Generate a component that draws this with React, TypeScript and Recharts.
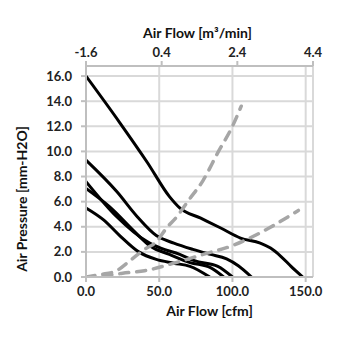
import { LineChart, Line, XAxis, YAxis, CartesianGrid, Label } from "recharts";

// fan curves, cfm vs mm-H2O
const curveAx = [0, 23, 42, 57, 64, 78, 92, 105.5, 119, 126, 133, 140, 148];
const curveAy = [16, 12.3, 9.1, 6.4, 5.5, 4.7, 3.9, 3.1, 2.7, 2.3, 1.65, 0.85, 0];
const curveBx = [0, 21, 35, 48, 60, 73, 85, 96, 104, 113];
const curveBy = [9.3, 6.8, 4.8, 3.3, 2.7, 2.2, 1.8, 1.45, 0.9, 0];
const curveCx = [0, 21, 42, 51, 64, 74, 90, 100];
const curveCy = [7.6, 4.8, 2.8, 2.3, 1.8, 1.3, 0.85, 0];
const curveDx = [0, 16, 35, 44, 57, 71, 85, 94];
const curveDy = [7.05, 5.6, 3.4, 2.45, 1.8, 1.15, 0.75, 0];
const curveEx = [0, 12, 23, 36, 48, 60, 71, 84.5];
const curveEy = [5.5, 4.55, 3.3, 2.0, 1.4, 1.1, 0.85, 0];

// system impedance curves (dashed)
const steepX = [0, 10, 20, 30, 40, 48, 55, 62, 70, 80, 90, 100, 106];
const steepY = [0, 0.2, 0.45, 1.3, 2.2, 2.8, 3.9, 4.8, 6.1, 7.7, 9.9, 12.0, 13.6];
const shallowX = [0, 10, 25, 40, 60, 80, 100, 110, 125, 145];
const shallowY = [0, 0.05, 0.3, 0.5, 1.1, 1.8, 2.5, 3.0, 3.9, 5.3];

const cfmTicks = [0, 50, 100, 150];
const m3Ticks = [-1.6, 0.4, 2.4, 4.4];
const pressureTicks = [0, 2, 4, 6, 8, 10, 12, 14, 16];

const toPoints = (xs: number[], ys: number[]) =>
  xs.map((x, i) => ({ x, y: ys[i] }));

const fanCurves = [
  toPoints(curveAx, curveAy),
  toPoints(curveBx, curveBy),
  toPoints(curveCx, curveCy),
  toPoints(curveDx, curveDy),
  toPoints(curveEx, curveEy),
];
const sysCurves = [toPoints(steepX, steepY), toPoints(shallowX, shallowY)];
// invisible helper so the top (m3/min) axis gets drawn
const topAxisRef = m3Ticks.map((x) => ({ x, y: 0 }));

const FONT = "Lato, 'Open Sans', sans-serif";
const tickStyle = { fontSize: 13, fontWeight: 700, fill: "#222", fontFamily: FONT };
const titleStyle = { fontSize: 14, fontWeight: 700, fill: "#111", fontFamily: FONT };
const axisLine = { stroke: "#bfbfbf", strokeWidth: 2 };

export default function App() {
  return (
    <LineChart
      width={347}
      height={347}
      margin={{ top: 0, right: 42, bottom: 0, left: 0 }}
    >
      <CartesianGrid stroke="#d9d9d9" strokeWidth={2} />
      <XAxis
        type="number"
        dataKey="x"
        domain={[0, 155]}
        ticks={cfmTicks}
        allowDataOverflow
        height={78}
        tickSize={5}
        tickMargin={5}
        axisLine={axisLine}
        tickLine={axisLine}
        tick={tickStyle}
        tickFormatter={(v: number) => v.toFixed(1)}
      >
        <Label
          content={({ viewBox }: any) => (
            <text
              x={viewBox.x + viewBox.width / 2 + 10}
              y={viewBox.y + 33}
              textAnchor="middle"
              dominantBaseline="central"
              style={titleStyle}
            >
              Air Flow [cfm]
            </text>
          )}
        />
      </XAxis>
      <XAxis
        xAxisId="top"
        orientation="top"
        type="number"
        dataKey="x"
        domain={[-1.6, 4.4]}
        ticks={m3Ticks}
        allowDataOverflow
        height={58}
        tickSize={5}
        tickMargin={4}
        axisLine={axisLine}
        tickLine={axisLine}
        tick={tickStyle}
        tickFormatter={(v: number) => v.toFixed(1)}
      >
        <Label
          content={({ viewBox }: any) => (
            <text
              x={(viewBox?.x ?? 78) + (viewBox?.width ?? 227) / 2 - 2}
              y={24}
              textAnchor="middle"
              dominantBaseline="central"
              style={titleStyle}
            >
              Air Flow [m³/min]
            </text>
          )}
        />
      </XAxis>
      <YAxis
        type="number"
        domain={[0, 16.8]}
        ticks={pressureTicks}
        allowDataOverflow
        width={78}
        tickSize={5}
        tickMargin={9}
        axisLine={axisLine}
        tickLine={axisLine}
        tick={tickStyle}
        tickFormatter={(v: number) => v.toFixed(1)}
      >
        <Label
          content={({ viewBox }: any) => {
            const cx = 13;
            const cy = viewBox.y + 133;
            return (
              <text
                x={cx}
                y={cy}
                textAnchor="middle"
                dominantBaseline="central"
                transform={`rotate(-90, ${cx}, ${cy})`}
                style={titleStyle}
              >
                Air Pressure [mm-H2O]
              </text>
            );
          }}
        />
      </YAxis>
      <Line
        xAxisId="top"
        data={topAxisRef}
        dataKey="y"
        stroke="none"
        dot={false}
        activeDot={false}
        isAnimationActive={false}
      />
      {fanCurves.map((pts, i) => (
        <Line
          key={`fan-${i}`}
          data={pts}
          dataKey="y"
          type="monotone"
          stroke="#000"
          strokeWidth={3}
          dot={false}
          activeDot={false}
          isAnimationActive={false}
        />
      ))}
      {sysCurves.map((pts, i) => (
        <Line
          key={`sys-${i}`}
          data={pts}
          dataKey="y"
          type="monotone"
          stroke="#a6a6a6"
          strokeWidth={3.5}
          strokeDasharray="9 8"
          strokeLinecap="round"
          dot={false}
          activeDot={false}
          isAnimationActive={false}
        />
      ))}
    </LineChart>
  );
}
